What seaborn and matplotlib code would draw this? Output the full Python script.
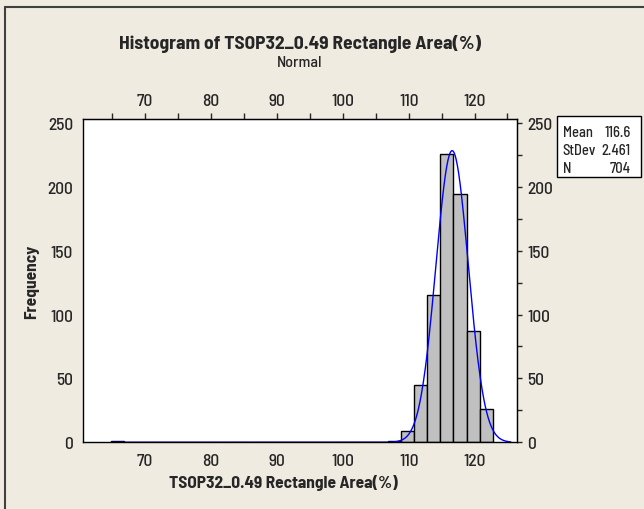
import numpy as np
import pandas as pd
import seaborn as sns
import matplotlib.pyplot as plt
from matplotlib.lines import Line2D
from matplotlib.patches import Rectangle

# bin midpoints (width 2) and counts
mids = [65.8, 107.8, 109.8, 111.8, 113.8, 115.8, 117.8, 119.8, 121.8]
counts = [1, 1, 9, 45, 115, 226, 194, 87, 26]
mean_val = 116.6
sd_val = 2.461
n_val = 704
xtick_vals = list(range(65, 126, 5))
ytick_vals = list(range(0, 251, 25))

tabela = pd.DataFrame({'area': mids, 'n': counts})

sns.set_style("white")
plt.rcParams['font.family'] = ['Barlow Semi Condensed', 'DejaVu Sans']
plt.rcParams['font.weight'] = 500

fig = plt.figure(figsize=(6.44, 5.10), dpi=100)
fig.patch.set_facecolor('#EFEBE1')
ax = fig.add_axes([0.1294, 0.1307, 0.6729, 0.634])

sns.histplot(data=tabela, x='area', weights='n', binwidth=2, binrange=(64.8, 122.8),
             color='#C0C0C0', edgecolor='black', linewidth=1, alpha=1, ax=ax)

# fitted normal curve
xs = np.linspace(64.8, 125.5, 600)
ys = n_val * 2 / (sd_val * np.sqrt(2 * np.pi)) * np.exp(-0.5 * ((xs - mean_val) / sd_val) ** 2)
ax.plot(xs, ys, color='#0000FF', lw=1)

xlabs = ['' if v % 10 else str(v) for v in xtick_vals]
ylabs = ['' if v % 50 else str(v) for v in ytick_vals]

ax.set_xlim(60.6, 126.4)
ax.set_ylim(0, 253)
ax.set_xticks(xtick_vals)
ax.set_xticklabels(xlabs)
ax.set_yticks(ytick_vals)
ax.set_yticklabels(ylabs)
ax.tick_params(direction='out', length=3.5, width=1, color='black', labelsize=12.5, pad=4)
for s in ax.spines.values():
    s.set_color('black')
    s.set_linewidth(1)

top = ax.secondary_xaxis('top')
top.set_xticks(xtick_vals)
top.set_xticklabels(xlabs)
top.tick_params(direction='out', length=4, width=1, labelsize=12.5, pad=4)
right = ax.secondary_yaxis('right')
right.set_yticks(ytick_vals)
right.set_yticklabels(ylabs)
right.tick_params(direction='out', length=3.5, width=1, labelsize=12.5, pad=4)

ax.set_xlabel('TSOP32_0.49 Rectangle Area(%)', fontsize=12.5, fontweight='bold', labelpad=3)
ax.xaxis.set_label_coords(0.461, -0.097)
ax.set_ylabel('Frequency', fontsize=12.5, fontweight='bold', labelpad=6)

fig.text(0.466, 0.913, 'Histogram of TSOP32_0.49 Rectangle Area(%)', ha='center', va='center',
         fontsize=14, fontweight='bold')
fig.text(0.466, 0.876, 'Normal', ha='center', va='center', fontsize=11.5)

# stats box
fig.add_artist(Rectangle((0.8645, 0.651), 0.1305, 0.120, transform=fig.transFigure,
                         facecolor='white', edgecolor='black', lw=1))
rows = [('Mean', '116.6'), ('StDev', '2.461'), ('N', '704')]
for i, (k, v) in enumerate(rows):
    yy = 1 - (132.7 + i * 18.3) / 510
    fig.text(0.874, yy, k, fontsize=10.5, va='center', ha='left')
    fig.text(0.979, yy, v, fontsize=10.5, va='center', ha='right')

# outer frame lines
fig.add_artist(Line2D([0.008, 0.008], [0, 0.984], transform=fig.transFigure, color='#404040', lw=1.5))
fig.add_artist(Line2D([0.008, 1], [0.984, 0.984], transform=fig.transFigure, color='#404040', lw=1.5))

fig.savefig('out.png', dpi=100, facecolor=fig.get_facecolor())
